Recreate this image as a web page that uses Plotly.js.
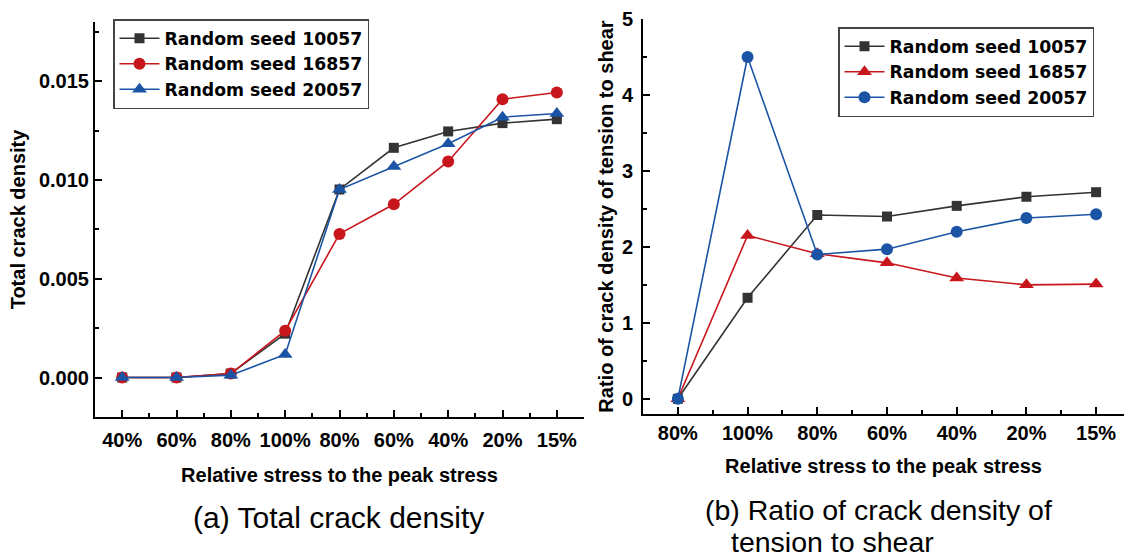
<!DOCTYPE html>
<html>
<head>
<meta charset="utf-8">
<script src="https://cdn.plot.ly/plotly-3.0.1.min.js"></script>
<style>html,body{margin:0;padding:0;background:#fff;}#chart{width:1126px;height:558px;}</style>
</head>
<body>
<div id="chart"></div>
<script>
// ---- data ----
const stagesA = ['40%','60%','80%','100%','80%','60%','40%','20%','15%'];
const stagesB = ['80%','100%','80%','60%','40%','20%','15%'];
const seriesNames = ['Random seed 10057','Random seed 16857','Random seed 20057'];

const densitySeed10057 = [0, 0, 0.0002, 0.00222, 0.00952, 0.01163, 0.01246, 0.01288, 0.01308];
const densitySeed16857 = [0, 0, 0.0002, 0.00237, 0.00727, 0.00877, 0.01094, 0.01409, 0.01443];
const densitySeed20057 = [0, 0, 0.00012, 0.00117, 0.00952, 0.01068, 0.01184, 0.01318, 0.01337];

const ratioSeed10057 = [0, 1.33, 2.42, 2.40, 2.54, 2.66, 2.72];
const ratioSeed16857 = [0, 2.15, 1.91, 1.79, 1.59, 1.50, 1.51];
const ratioSeed20057 = [0, 4.50, 1.90, 1.97, 2.20, 2.38, 2.43];

const colBlack = '#333333', colRed = '#c8161d', colBlue = '#1b54a4';
const idxA = stagesA.map((_, i) => i);
const idxB = stagesB.map((_, i) => i);

function tr(x, y, name, color, symbol, xa, ya, leg, size) {
  return {
    x: x, y: y, name: name, type: 'scatter', mode: 'lines+markers',
    xaxis: xa, yaxis: ya, legend: leg,
    line: {color: color, width: 1.6},
    marker: {color: color, symbol: symbol, size: size}
  };
}

const data = [
  tr(idxA, densitySeed10057, seriesNames[0], colBlack, 'square', 'x', 'y', 'legend', 10),
  tr(idxA, densitySeed16857, seriesNames[1], colRed, 'circle', 'x', 'y', 'legend', 12),
  tr(idxA, densitySeed20057, seriesNames[2], colBlue, 'triangle-up', 'x', 'y', 'legend', 13),
  tr(idxB, ratioSeed10057, seriesNames[0], colBlack, 'square', 'x2', 'y2', 'legend2', 10),
  tr(idxB, ratioSeed16857, seriesNames[1], colRed, 'triangle-up', 'x2', 'y2', 'legend2', 13),
  tr(idxB, ratioSeed20057, seriesNames[2], colBlue, 'circle', 'x2', 'y2', 'legend2', 12)
];

const W = 1126, H = 558;
const fx = v => v / W, fy = v => 1 - v / H;
const FAM = 'Liberation Sans, Arial, sans-serif';
const tickFont = {family: FAM, size: 20, color: '#000', weight: 'bold'};
const titleFont = {family: FAM, size: 20, color: '#000', weight: 'bold'};
const legFont = {family: 'DejaVu Sans, sans-serif', size: 17.3, color: '#000', weight: 'bold'};
const capFont = {family: FAM, size: 30, color: '#000'};
const capFontB = {family: FAM, size: 28.5, color: '#000'};

function axisBase() {
  return {
    showline: true, linecolor: '#000', linewidth: 2, mirror: false,
    showgrid: false, zeroline: false, ticks: 'inside', ticklen: 7, tickwidth: 2, tickcolor: '#000',
    tickfont: tickFont, automargin: false, fixedrange: true
  };
}

const layout = {
  width: W, height: H,
  margin: {l: 0, r: 0, t: 0, b: 0},
  paper_bgcolor: '#fff', plot_bgcolor: '#fff',
  showlegend: true,
  xaxis: Object.assign(axisBase(), {
    domain: [fx(95), fx(584)], anchor: 'y',
    range: [-0.5, 8.5], tickmode: 'array', tickvals: idxA, ticktext: stagesA,
    ticklabelstandoff: 4,
    minor: {tickmode: 'linear', tick0: 0.5, dtick: 1, ticks: 'inside', ticklen: 4, tickwidth: 2, tickcolor: '#000'},
    title: {text: 'Relative stress to the peak stress', font: titleFont, standoff: 18}
  }),
  yaxis: Object.assign(axisBase(), {
    domain: [fy(417), fy(22)], anchor: 'x',
    range: [-0.002, 0.018], tickmode: 'linear', tick0: 0, dtick: 0.005, tickformat: '.3f',
    ticklabelstandoff: 0,
    minor: {tickmode: 'linear', tick0: 0, dtick: 0.0025, ticks: 'inside', ticklen: 4, tickwidth: 2, tickcolor: '#000'},
    title: {text: 'Total crack density', font: titleFont, standoff: 8}
  }),
  xaxis2: Object.assign(axisBase(), {
    domain: [fx(643), fx(1124)], anchor: 'y2',
    range: [-0.5, 6.4], tickmode: 'array', tickvals: idxB, ticktext: stagesB,
    ticklabelstandoff: 0,
    minor: {tickmode: 'linear', tick0: 0.5, dtick: 1, ticks: 'inside', ticklen: 4, tickwidth: 2, tickcolor: '#000'},
    title: {text: 'Relative stress to the peak stress', font: titleFont, standoff: 16}
  }),
  yaxis2: Object.assign(axisBase(), {
    domain: [fy(414), fy(19)], anchor: 'x2',
    range: [-0.2, 5], tickmode: 'linear', tick0: 0, dtick: 1,
    ticklabelstandoff: 4,
    minor: {tickmode: 'linear', tick0: 0, dtick: 0.5, ticks: 'inside', ticklen: 4, tickwidth: 2, tickcolor: '#000'},
    title: {text: 'Ratio of crack density of tension to shear', font: titleFont, standoff: 3}
  }),
  legend: {
    x: fx(113), y: fy(19), xanchor: 'left', yanchor: 'top',
    bgcolor: '#fff', bordercolor: '#444', borderwidth: 1.5, font: legFont,
    tracegroupgap: 0, itemwidth: 40
  },
  legend2: {
    x: fx(838), y: fy(27), xanchor: 'left', yanchor: 'top',
    bgcolor: '#fff', bordercolor: '#444', borderwidth: 1.5, font: legFont,
    tracegroupgap: 0, itemwidth: 40
  },
  annotations: [
    {text: '(a) Total crack density', xref: 'paper', yref: 'paper', x: fx(338), y: fy(517),
     xanchor: 'center', yanchor: 'middle', showarrow: false, font: capFont},
    {text: '(b) Ratio of crack density of', xref: 'paper', yref: 'paper', x: fx(878), y: fy(510),
     xanchor: 'center', yanchor: 'middle', showarrow: false, font: capFontB, borderpad: 0},
    {text: 'tension to shear', xref: 'paper', yref: 'paper', x: fx(730), y: fy(542),
     xanchor: 'left', yanchor: 'middle', showarrow: false, font: capFontB, borderpad: 0}
  ]
};

Plotly.newPlot('chart', data, layout, {displayModeBar: false, staticPlot: true});
</script>
</body>
</html>
